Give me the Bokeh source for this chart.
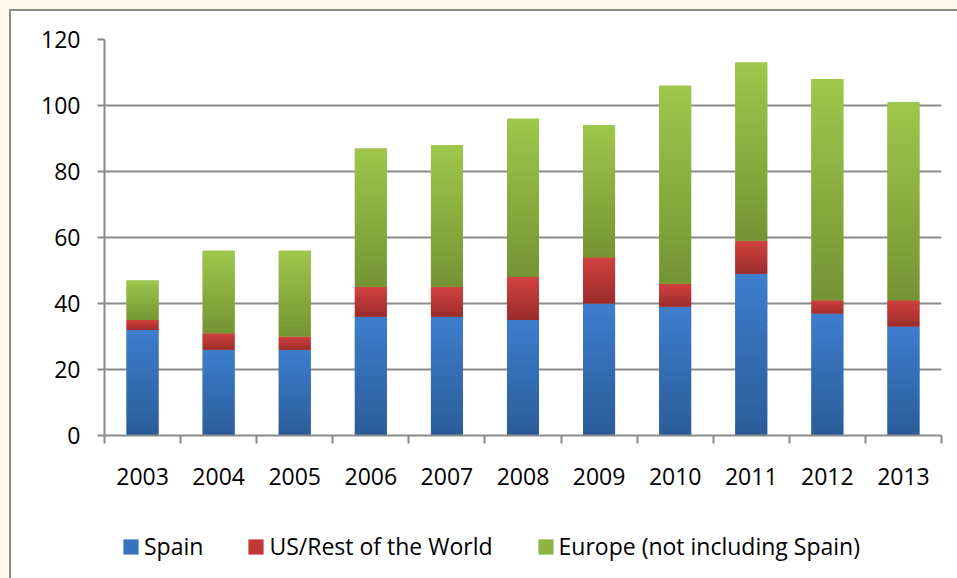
import numpy as np
from bokeh.plotting import figure
from bokeh.layouts import column
from bokeh.models import Range1d, FixedTicker, Legend, LegendItem, ColumnDataSource
from bokeh.embed import file_html
from bokeh.resources import INLINE

years = ["2003", "2004", "2005", "2006", "2007", "2008", "2009", "2010", "2011", "2012", "2013"]
spain = [32, 26, 26, 36, 36, 35, 40, 39, 49, 37, 33]
us_rest = [3, 5, 4, 9, 9, 13, 14, 7, 10, 4, 8]
europe = [12, 25, 26, 42, 43, 48, 40, 60, 54, 67, 60]
y_ticks = [0, 20, 40, 60, 80, 100, 120]
series_names = ["Spain", "US/Rest of the World", "Europe (not including Spain)"]

# (dark bottom, light top) gradient colours per series
grad = [((0x2B, 0x5C, 0x99), (0x3D, 0x7E, 0xCD)),
        ((0x98, 0x2C, 0x2B), (0xD2, 0x42, 0x3F)),
        ((0x74, 0x94, 0x34), (0x9E, 0xC7, 0x4B))]
solid = ["#3873BE", "#C23936", "#8DB443"]

FONT = "Open Sans"
GRAY = "#8A8A8A"

p = figure(width=957, height=505, output_backend="svg", toolbar_location=None,
           x_range=Range1d(0, len(years)), y_range=Range1d(0, 120),
           min_border_left=104, min_border_right=16, min_border_top=39, min_border_bottom=70)
p.background_fill_color = "white"
p.border_fill_alpha = 0
p.outline_line_color = None

centers = [i + 0.5 for i in range(len(years))]
bar_w = 0.42

values = [spain, us_rest, europe]
bases = [np.zeros(len(years)), np.array(spain, float), np.array(spain, float) + np.array(us_rest, float)]

N = 24
for s, (vals, base) in enumerate(zip(values, bases)):
    vals = np.array(vals, float)
    p.vbar(x=centers, bottom=base, top=base + vals, width=bar_w,
           fill_color=solid[s], line_color=None)
    xs, bots, tops, cols = [], [], [], []
    (d, l) = grad[s]
    for i in range(len(years)):
        for k in range(N):
            t = (k + 0.5) / N
            c = tuple(int(round(d[j] + (l[j] - d[j]) * t)) for j in range(3))
            xs.append(centers[i])
            bots.append(base[i] + vals[i] * k / N)
            tops.append(base[i] + vals[i] * (k + 1) / N + (0 if k == N - 1 else vals[i] * 0.004))
            cols.append("#%02X%02X%02X" % c)
    src = ColumnDataSource(dict(x=xs, bottom=bots, top=tops, color=cols))
    p.vbar(x="x", bottom="bottom", top="top", width=bar_w, fill_color="color",
           line_color=None, source=src)

# y axis
p.yaxis.ticker = FixedTicker(ticks=y_ticks)
p.ygrid.ticker = FixedTicker(ticks=y_ticks)
p.ygrid.grid_line_color = GRAY
p.ygrid.grid_line_width = 2
p.xgrid.grid_line_color = None
p.yaxis.axis_line_color = GRAY
p.yaxis.axis_line_width = 2
p.yaxis.major_tick_line_color = GRAY
p.yaxis.major_tick_line_width = 2
p.yaxis.major_tick_in = 0
p.yaxis.major_tick_out = 7
p.yaxis.minor_tick_line_color = None
p.yaxis.major_label_standoff = 17
p.yaxis.major_label_text_font = FONT
p.yaxis.major_label_text_font_size = "23px"
p.yaxis.major_label_text_color = "black"

# x axis: labels at bar centres, ticks at category boundaries
p.xaxis.ticker = FixedTicker(ticks=centers, minor_ticks=list(range(len(years) + 1)))
p.xaxis.major_label_overrides = {c: y for c, y in zip(centers, years)}
p.xaxis.axis_line_color = GRAY
p.xaxis.axis_line_width = 2
p.xaxis.major_tick_line_color = None
p.xaxis.major_tick_in = 0
p.xaxis.major_tick_out = 0
p.xaxis.minor_tick_line_color = GRAY
p.xaxis.minor_tick_line_width = 2
p.xaxis.minor_tick_in = 0
p.xaxis.minor_tick_out = 8
p.xaxis.major_label_standoff = 24
p.xaxis.major_label_text_font = FONT
p.xaxis.major_label_text_font_size = "23px"
p.xaxis.major_label_text_color = "black"

# legend strip below the chart (its frame is aligned with the chart's frame)
q = figure(width=957, height=73, output_backend="svg", toolbar_location=None,
           x_range=Range1d(0, 1), y_range=Range1d(0, 1),
           x_axis_location=None, y_axis_location=None,
           min_border_left=0, min_border_right=0, min_border_top=0, min_border_bottom=0)
q.background_fill_alpha = 0
q.border_fill_alpha = 0
q.outline_line_color = None
q.grid.visible = False
legend_items = []
for s in range(3):
    # zero-height proxy bar outside the visible range: only its legend swatch shows
    r = q.vbar(x=[-10], bottom=[0], top=[0], width=0.1, fill_color=solid[s], line_color=None)
    legend_items.append(LegendItem(label=series_names[s], renderers=[r]))

legend = Legend(items=legend_items, orientation="horizontal", location=(17, 16),
                glyph_width=19, glyph_height=19, label_standoff=4, spacing=43,
                padding=0, margin=0, border_line_color=None, background_fill_alpha=0,
                label_text_font=FONT, label_text_font_size="23px", label_text_color="black")
q.add_layout(legend, "center")

layout = column(p, q, spacing=0)
layout.styles = {"background-color": "white",
                 "box-shadow": "inset 9px 9px 0 0 #FEF8EB, inset 11px 11px 0 0 #8C8C8C"}

open("out.html", "w").write(file_html(layout, INLINE))
